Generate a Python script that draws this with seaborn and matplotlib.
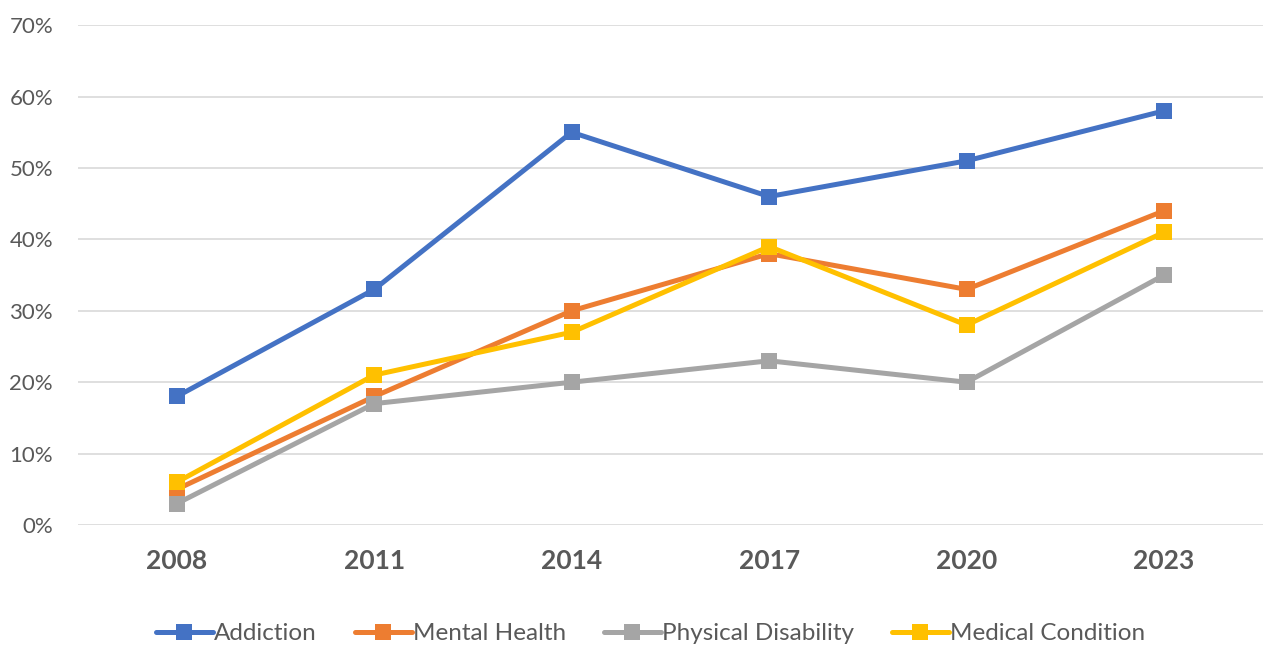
import numpy as np
import pandas as pd
import matplotlib.pyplot as plt
import seaborn as sns

years = ["2008", "2011", "2014", "2017", "2020", "2023"]
addiction = [18, 33, 55, 46, 51, 58]
mental_health = [5, 18, 30, 38, 33, 44]
physical_disability = [3, 17, 20, 23, 20, 35]
medical_condition = [6, 21, 27, 39, 28, 41]

series_names = ["Addiction", "Mental Health", "Physical Disability", "Medical Condition"]
series_values = [addiction, mental_health, physical_disability, medical_condition]
colors = ["#4472C4", "#ED7D31", "#A5A5A5", "#FFC000"]

rows = []
for name, vals in zip(series_names, series_values):
    for y, v in zip(years, vals):
        rows.append({"Year": y, "Value": v / 100, "Series": name})
df = pd.DataFrame(rows)

sns.set_style("white")
plt.rcParams["font.family"] = ["Lato", "DejaVu Sans"]

fig = plt.figure(figsize=(12.63, 6.45), dpi=100)
ax = fig.add_axes([0.0618, 0.186, 0.938, 0.775])

sns.lineplot(data=df, x="Year", y="Value", hue="Series", hue_order=series_names,
             palette=colors, marker="s", markersize=11, markeredgewidth=0,
             linewidth=3.6, dashes=False, ax=ax, legend=False, zorder=3)

ax.set_xlim(-0.5, 5.5)
ax.set_ylim(0, 0.70)
ax.set_yticks(np.arange(0, 0.71, 0.1))
ax.set_yticklabels([f"{int(round(t*100))}%" for t in np.arange(0, 0.71, 0.1)])
ax.grid(axis="y", color="#D9D9D9", linewidth=1.2, zorder=0)
ax.set_axisbelow(True)
for s in ax.spines.values():
    s.set_visible(False)
ax.set_xlabel("")
ax.set_ylabel("")
ax.tick_params(axis="y", length=0, labelsize=16, labelcolor="#595959", pad=18)
ax.tick_params(axis="x", length=0, labelsize=19, labelcolor="#595959", pad=17)
for lab in ax.get_xticklabels():
    lab.set_fontweight("bold")

handles = [plt.Line2D([], [], color=c, linewidth=3.6, marker="s", markersize=11,
                      markeredgewidth=0) for c in colors]
fig.legend(handles, series_names, loc="lower center", bbox_to_anchor=(0.515, -0.033),
           ncol=4, frameon=False, fontsize=17.5, labelcolor="#595959",
           handlelength=2.35, handletextpad=0.05, columnspacing=1.55)

fig.savefig("out.png", dpi=100)
